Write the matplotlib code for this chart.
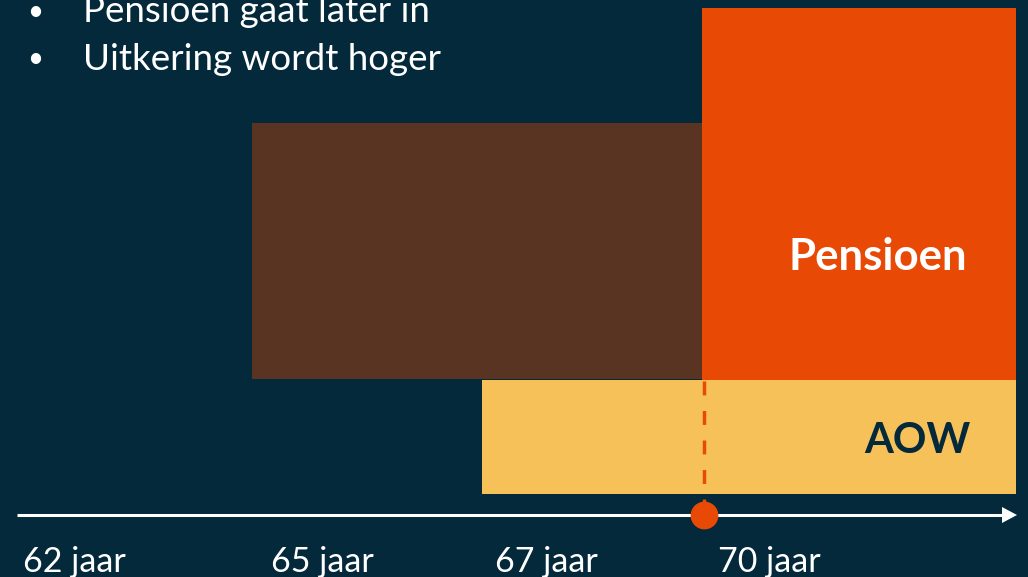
import matplotlib.pyplot as plt
from matplotlib.patches import Rectangle, Polygon

# diagram in slide pixel units (x right, y down)
block_names = ["vervroegd", "Pensioen", "AOW"]
block_left = [252, 702, 482]
block_right = [702, 1016, 1016]
block_top = [123, 8, 380]
block_bottom = [379, 380, 494]
block_colors = ["#5a3422", "#e84a06", "#f7c15a"]

tick_labels = ["62 jaar", "65 jaar", "67 jaar", "70 jaar"]
tick_pos = [23, 271, 495, 718]

bullets = ["Pensioen gaat later in", "Uitkering wordt hoger"]
bullet_y = [12, 59]

axis_y = 515
marker_x = 704

bg = "#03293a"
plt.rcParams['font.family'] = ['Lato', 'DejaVu Sans']

fig = plt.figure(figsize=(10.28, 5.77), dpi=100, facecolor=bg)
ax = fig.add_axes([0, 0, 1, 1])
ax.set_facecolor(bg)
ax.set_xlim(0, 1028)
ax.set_ylim(577, 0)
ax.axis("off")

for l, r, t, b, c in zip(block_left, block_right, block_top, block_bottom, block_colors):
    ax.add_patch(Rectangle((l, t), r - l, b - t, facecolor=c, edgecolor="none", zorder=1))

ax.text(878, 257, "Pensioen", color="white", fontsize=31.5, fontweight="bold",
        ha="center", va="center", zorder=3)
ax.text(917, 441, "AOW", color=bg, fontsize=30, fontweight="bold",
        ha="center", va="center", zorder=3)

# time axis with arrow
ax.plot([17, 1002], [axis_y, axis_y], color="white", lw=2.2, zorder=2,
        solid_capstyle="butt")
ax.add_patch(Polygon([[1002, axis_y - 8], [1002, axis_y + 8], [1017, axis_y]],
                     closed=True, facecolor="white", edgecolor="none", zorder=2))

# dashed line + marker
ax.plot([marker_x, marker_x], [381, axis_y], color="#e84a06", lw=2.5,
        dashes=(4, 4.5), zorder=3)
ax.plot(marker_x, axis_y, "o", color="#e84a06", markersize=19, zorder=4)

for lab, x in zip(tick_labels, tick_pos):
    ax.text(x, 562, lab, color="white", fontsize=24.5, ha="left", va="center")

for txt, y in zip(bullets, bullet_y):
    ax.text(27, y, "\u2022", color="white", fontsize=20, ha="left", va="center")
    ax.text(83, y, txt, color="white", fontsize=26.5, ha="left", va="center")

fig.savefig("out.png", dpi=100, facecolor=bg)
